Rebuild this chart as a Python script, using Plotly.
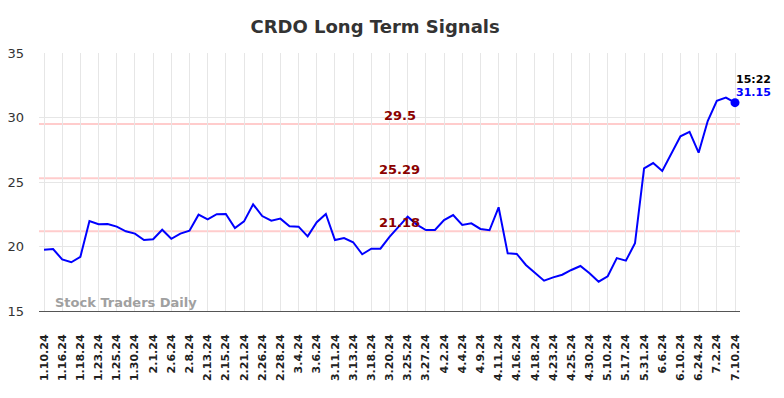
import plotly.graph_objects as go

tick_labels = ["1.10.24", "1.16.24", "1.18.24", "1.23.24", "1.25.24", "1.30.24", "2.1.24", "2.6.24",
               "2.8.24", "2.13.24", "2.15.24", "2.21.24", "2.26.24", "2.28.24", "3.4.24", "3.6.24",
               "3.11.24", "3.13.24", "3.18.24", "3.20.24", "3.25.24", "3.27.24", "4.2.24", "4.4.24",
               "4.9.24", "4.11.24", "4.16.24", "4.18.24", "4.23.24", "4.25.24", "4.30.24", "5.10.24",
               "5.17.24", "5.31.24", "6.6.24", "6.10.24", "6.24.24", "7.2.24", "7.10.24"]

prices = [19.75, 19.8, 19.0, 18.78, 19.2, 21.98, 21.72, 21.74, 21.54, 21.18,
          21.0, 20.5, 20.56, 21.3, 20.6, 21.0, 21.22, 22.47, 22.1, 22.5,
          22.52, 21.43, 21.95, 23.27, 22.36, 22.0, 22.16, 21.57, 21.54, 20.79,
          21.88, 22.52, 20.5, 20.66, 20.33, 19.4, 19.83, 19.83, 20.74, 21.5,
          22.31, 21.7, 21.28, 21.28, 22.05, 22.44, 21.67, 21.8, 21.36, 21.26,
          23.04, 19.47, 19.42, 18.57, 17.97, 17.35, 17.61, 17.81, 18.18, 18.49,
          17.92, 17.27, 17.69, 19.1, 18.9, 20.25, 26.06, 26.47, 25.85, 27.15,
          28.54, 28.88, 27.27, 29.73, 31.3, 31.54, 31.15]

signal_levels = [29.5, 25.29, 21.18]
signal_labels = ["29.5", "25.29", "21.18"]
last_time = "15:22"
last_label = "31.15"

x = list(range(len(prices)))
tick_vals = list(range(0, len(prices), 2))

fig = go.Figure()

for lvl in signal_levels:
    fig.add_shape(type="line", xref="paper", x0=0, x1=1, yref="y", y0=lvl, y1=lvl,
                  line=dict(color="rgba(255,0,0,0.2)", width=2), layer="below")

fig.add_trace(go.Scatter(x=x, y=prices, mode="lines",
                         line=dict(color="#0000ff", width=2), hoverinfo="skip"))
fig.add_trace(go.Scatter(x=[x[-1]], y=[prices[-1]], mode="markers",
                         marker=dict(color="#0000ff", size=9), hoverinfo="skip"))

mid = (len(prices) - 1) / 2
for lvl, lab in zip(signal_levels, signal_labels):
    fig.add_annotation(x=mid, y=lvl, text=lab, showarrow=False, yanchor="bottom", yshift=-1,
                       xshift=10,
                       font=dict(family="DejaVu Sans", size=13, color="#8b0000", weight="bold"))

fig.add_annotation(x=x[-1], y=prices[-1], text=last_time, showarrow=False, xanchor="left",
                   yanchor="bottom", xshift=-1, yshift=15,
                   font=dict(family="DejaVu Sans", size=11, color="#000000", weight="bold"))
fig.add_annotation(x=x[-1], y=prices[-1], text=last_label, showarrow=False, xanchor="left",
                   yanchor="bottom", xshift=-1, yshift=2,
                   font=dict(family="DejaVu Sans", size=11, color="#0000ff", weight="bold"))

fig.add_annotation(xref="paper", yref="paper", x=0.02, y=0.0, xanchor="left", yanchor="bottom",
                   yshift=-1, text="Stock Traders Daily", showarrow=False,
                   font=dict(family="DejaVu Sans", size=13, color="#a0a0a0", weight="bold"))

# the page body has an 8px margin, so the figure is 8px smaller to fit the 784x398 window
fig.update_layout(
    width=776, height=390,
    margin=dict(l=31, r=44, t=45, b=87),
    paper_bgcolor="white", plot_bgcolor="white",
    showlegend=False,
    title=dict(text="CRDO Long Term Signals", x=0.473, xanchor="center", y=0.951, yanchor="middle",
               font=dict(family="DejaVu Sans", size=18, color="#333333", weight="bold")),
    xaxis=dict(range=[-0.55, len(prices) - 1 + 0.55], tickmode="array", tickvals=tick_vals,
               ticktext=tick_labels, tickangle=-90, showgrid=True, gridcolor="#e6e6e6",
               showline=True, linecolor="#555555", linewidth=1, zeroline=False, ticks="",
               automargin=False, ticklabelstandoff=18,
               tickfont=dict(family="DejaVu Sans", size=11, color="#222222", weight="bold")),
    yaxis=dict(range=[15, 35], tickvals=[15, 20, 25, 30, 35], showgrid=True, gridcolor="#e6e6e6",
               zeroline=False, showline=False, ticks="", ticklabelstandoff=14, automargin=False,
               tickfont=dict(family="DejaVu Sans", size=13, color="#333333")),
)

fig.write_html("out.html")
